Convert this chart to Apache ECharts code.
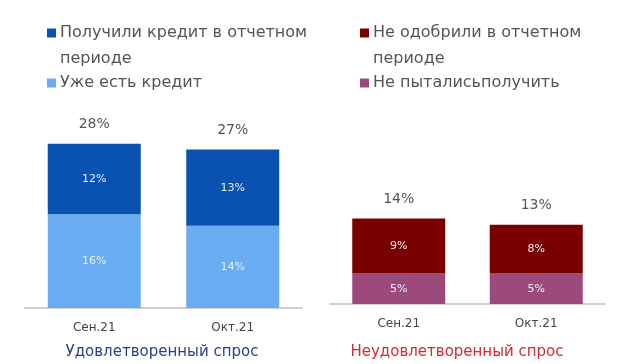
<!DOCTYPE html>
<html><head><meta charset="utf-8">
<script src="https://cdn.jsdelivr.net/npm/echarts@6/dist/echarts.min.js"></script>
<style>html,body{margin:0;padding:0;background:#fff}#c{width:620px;height:364px}</style>
</head><body><div id="c"></div>
<script>
const categories = ['Сен.21', 'Окт.21'];
const gotCredit = [12, 13];
const haveCredit = [16, 14];
const satisfiedTotal = [28, 27];
const notApproved = [9, 8];
const notTried = [5, 5];
const unsatisfiedTotal = [14, 13];
const seriesNames = ['Получили кредит в отчетном\nпериоде', 'Уже есть кредит', 'Не одобрили в отчетном\nпериоде', 'Не пыталисьполучить'];
const seriesColors = ['#0a52b2', '#6aacf2', '#7a0000', '#9c4a7c'];
const panelTitles = ['Удовлетворенный спрос', 'Неудовлетворенный спрос'];

const FONT = 'DejaVu Sans';
const chart = echarts.init(document.getElementById('c'));
const inLabel = {show: true, position: 'inside', color: '#e8eef8', fontSize: 11, fontFamily: FONT, formatter: '{c}%'};
const totLabel = {show: true, position: 'top', distance: 12, color: '#555', fontSize: 14, fontFamily: FONT, formatter: '{c}%'};
function xAx(i){return {type:'category', gridIndex:i, data:categories, axisTick:{show:false},
  axisLine:{lineStyle:{color:'#d0d0d0', width:2}},
  axisLabel:{color:'#444', fontSize:12, fontFamily:FONT, margin:14}};}
function yAx(i){return {type:'value', gridIndex:i, min:0, max:30, show:false, splitLine:{show:false}};}

// legend entries: [seriesIndex, square x, line-1 center y]
const legendPos = [[0, 47, 33], [1, 47, 83], [2, 360, 33], [3, 360, 83]];
const graphics = [];
legendPos.forEach(([i, x, cy]) => {
  graphics.push({type:'rect', left:x, top:cy - 4.5, shape:{width:9, height:9}, style:{fill:seriesColors[i]}, silent:true});
  graphics.push({type:'text', left:x + 13, top:cy - 13, style:{text:seriesNames[i], fill:'#555', font:'16px "' + FONT + '"', lineHeight:26}, silent:true});
});

chart.setOption({
  animation:false,
  textStyle:{fontFamily:FONT},
  grid:[{left:25, width:277, top:132, height:176}, {left:330, width:275, top:121, height:183}],
  xAxis:[xAx(0), xAx(1)],
  yAxis:[yAx(0), yAx(1)],
  graphic:graphics,
  title:[
    {text:panelTitles[0], left:157, textAlign:'center', top:340, textStyle:{color:'#2b3e8c', fontSize:15, fontWeight:'normal', fontFamily:FONT}},
    {text:panelTitles[1], left:452, textAlign:'center', top:340, textStyle:{color:'#d42a35', fontSize:15, fontWeight:'normal', fontFamily:FONT}}
  ],
  series:[
    {name:seriesNames[1], type:'bar', stack:'a', xAxisIndex:0, yAxisIndex:0, data:haveCredit, barWidth:93, itemStyle:{color:seriesColors[1]}, label:inLabel},
    {name:seriesNames[0], type:'bar', stack:'a', xAxisIndex:0, yAxisIndex:0, data:gotCredit, barWidth:93, itemStyle:{color:seriesColors[0]}, label:inLabel},
    {type:'bar', xAxisIndex:0, yAxisIndex:0, data:satisfiedTotal, barWidth:93, barGap:'-100%', itemStyle:{color:'transparent'}, label:totLabel, silent:true, z:1},
    {name:seriesNames[3], type:'bar', stack:'b', xAxisIndex:1, yAxisIndex:1, data:notTried, barWidth:93, itemStyle:{color:seriesColors[3]}, label:inLabel},
    {name:seriesNames[2], type:'bar', stack:'b', xAxisIndex:1, yAxisIndex:1, data:notApproved, barWidth:93, itemStyle:{color:seriesColors[2]}, label:inLabel},
    {type:'bar', xAxisIndex:1, yAxisIndex:1, data:unsatisfiedTotal, barWidth:93, barGap:'-100%', itemStyle:{color:'transparent'}, label:totLabel, silent:true, z:1}
  ]
});
</script></body></html>
